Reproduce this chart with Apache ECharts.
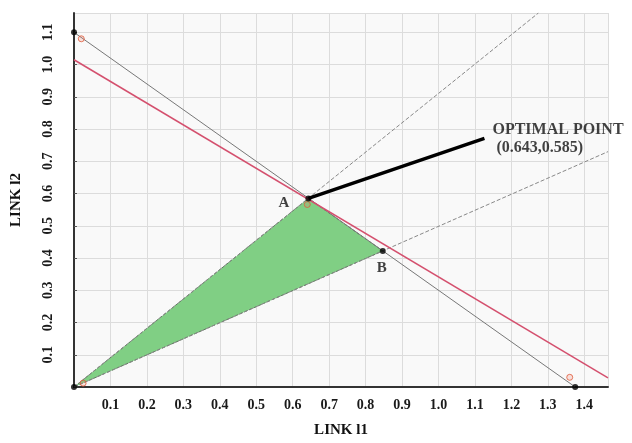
<!DOCTYPE html>
<html lang="en">
<head>
    <meta charset="UTF-8">
    <title>LINK l1 / LINK l2</title>
    <script src="https://cdn.jsdelivr.net/npm/echarts@6/dist/echarts.min.js"></script>
    <style>
        html, body { margin: 0; padding: 0; background: #ffffff; }
        #chart { width: 632px; height: 443px; }
    </style>
</head>
<body>
    <div id="chart"></div>
    <script>
        // lines, [x, y]
        var constraintLine = [[0, 1.1], [1.375, 0]];
        var objectiveLine = [[0, 1.015], [1.465, 0.028]];
        var rayA = [[0, 0], [1.274, 1.16]];
        var rayB = [[0, 0], [1.465, 0.73]];
        var feasible = [[0, 0], [0.643, 0.585], [0.847, 0.422]];
        var pointer = [[0.643, 0.585], [1.126, 0.771]];
        var vertices = [[0, 0], [0, 1.1], [0.643, 0.585], [0.847, 0.422], [1.375, 0]];
        var redMarks = [[0.02, 1.08], [1.36, 0.03], [0.025, 0.012], [0.64, 0.566]];
        var pointLabels = [
            { name: 'A', value: [0.643, 0.585] },
            { name: 'B', value: [0.847, 0.422] }
        ];
        var optimalText = ['OPTIMAL POINT', ' (0.643,0.585)'];

        var chart = echarts.init(document.getElementById('chart'));
        var serif = '"Liberation Serif", "DejaVu Serif", serif';

        function tickLabel(v) {
            var r = Math.round(v * 10);
            if (r === 0 || Math.abs(v * 10 - r) > 1e-6) return '';
            return (r / 10).toFixed(1);
        }

        chart.setOption({
            animation: false,
            backgroundColor: '#ffffff',
            grid: { left: 74, right: 24, top: 13, bottom: 56, show: true, backgroundColor: '#f9f9f9', borderWidth: 0 },
            xAxis: {
                type: 'value', min: 0, max: 1.465, interval: 0.1,
                name: 'LINK l1', nameLocation: 'middle', nameGap: 36,
                nameTextStyle: { fontFamily: serif, fontWeight: 'bold', fontSize: 15, color: '#111' },
                axisLine: { lineStyle: { color: '#333', width: 2 } },
                axisTick: { show: false },
                axisLabel: { formatter: tickLabel, fontFamily: serif, fontWeight: 'bold', fontSize: 14, color: '#1a1a1a', margin: 11, showMaxLabel: false },
                splitLine: { show: true, lineStyle: { color: '#dcdcdc' } }
            },
            yAxis: {
                type: 'value', min: 0, max: 1.16, interval: 0.1,
                name: 'LINK l2', nameLocation: 'middle', nameGap: 50, nameRotate: 90,
                nameTextStyle: { fontFamily: serif, fontWeight: 'bold', fontSize: 15, color: '#111' },
                axisLine: { show: true, lineStyle: { color: '#333', width: 2 } },
                axisTick: { show: true, length: 3, inside: true, lineStyle: { color: '#555' } },
                axisLabel: { formatter: tickLabel, rotate: 90, fontFamily: serif, fontWeight: 'bold', fontSize: 14, color: '#1a1a1a', margin: 19, showMaxLabel: false },
                splitLine: { show: true, lineStyle: { color: '#dcdcdc' } }
            },
            series: [
                {
                    type: 'custom',
                    data: feasible,
                    z: 2,
                    renderItem: function (params, api) {
                        if (params.dataIndex !== 0) return;
                        var pts = feasible.map(function (p) { return api.coord(p); });
                        return {
                            type: 'polygon',
                            shape: { points: pts },
                            style: { fill: '#80cf84', stroke: '#5a7a5a', lineWidth: 1, lineDash: [3, 2] }
                        };
                    }
                },
                { type: 'line', data: rayA, symbol: 'none', z: 3, lineStyle: { color: '#888', width: 1, type: [4, 2] } },
                { type: 'line', data: rayB, symbol: 'none', z: 3, lineStyle: { color: '#888', width: 1, type: [4, 2] } },
                { type: 'line', data: constraintLine, symbol: 'none', z: 3, lineStyle: { color: '#777', width: 1 } },
                { type: 'line', data: objectiveLine, symbol: 'none', z: 4, lineStyle: { color: '#d4506e', width: 1.5 } },
                { type: 'line', data: pointer, symbol: 'none', z: 5, lineStyle: { color: '#000', width: 3.5 } },
                {
                    type: 'scatter', data: redMarks, symbol: 'circle', symbolSize: 6, z: 6,
                    itemStyle: { color: 'rgba(240,120,100,0.25)', borderColor: '#e05a3a', borderWidth: 1 }
                },
                {
                    type: 'scatter', data: vertices, symbol: 'circle', symbolSize: 6, z: 7,
                    itemStyle: { color: '#000' }
                },
                {
                    type: 'scatter', data: pointLabels, symbolSize: 0, z: 8,
                    label: {
                        show: true,
                        formatter: '{b}',
                        fontFamily: serif, fontWeight: 'bold', fontSize: 15, color: '#111',
                        position: 'left'
                    },
                    labelLayout: function (p) {
                        return p.dataIndex === 0 ? { dx: -14, dy: 5 } : { dx: 9, dy: 17 };
                    }
                },
                {
                    type: 'scatter', data: [pointer[1]], symbolSize: 0, z: 8,
                    label: {
                        show: true,
                        formatter: optimalText.join('\n'),
                        fontFamily: serif, fontWeight: 'bold', fontSize: 16, color: '#111',
                        lineHeight: 18, align: 'left', verticalAlign: 'middle',
                        position: 'right', offset: [3, 0]
                    }
                }
            ]
        });
    </script>
</body>
</html>
